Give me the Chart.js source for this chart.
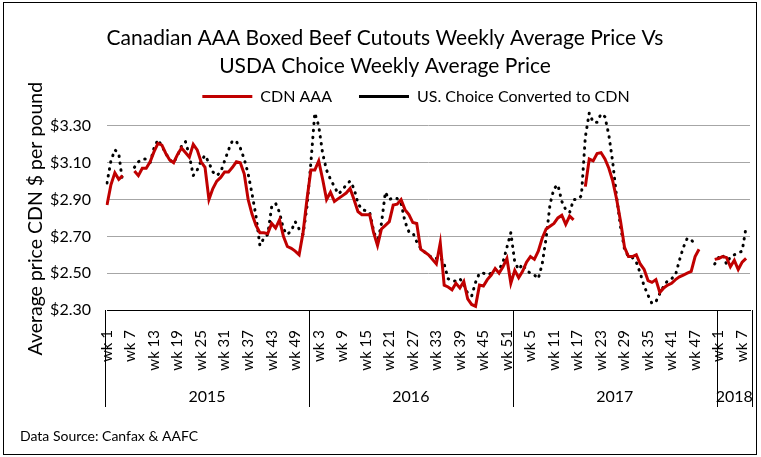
<!DOCTYPE html>
<html>
<head>
<meta charset="utf-8">
<script src="https://cdn.jsdelivr.net/npm/chart.js@4.4.1/dist/chart.umd.min.js"></script>
<style>
  html, body { margin: 0; padding: 0; background: #fff; }
</style>
</head>
<body>
<canvas id="beefChart" width="761" height="457"></canvas>
<script>
const years = ['2015', '2016', '2017', '2018'];
const weeksPerYear = [52, 52, 52, 9];

// CDN AAA, $/lb, one value per week (null = no report)
const cdn2015 = [2.87, 2.98, 3.045, 3.01, 3.03, null, null, 3.055, 3.03, 3.07,
  3.07, 3.105, 3.16, 3.205, 3.195, 3.15, 3.115, 3.10, 3.145, 3.18,
  3.155, 3.13, 3.20, 3.17, 3.105, 3.075, 2.90, 2.96, 3.00, 3.02,
  3.05, 3.05, 3.075, 3.105, 3.10, 3.04, 2.90, 2.82, 2.76, 2.72,
  2.72, 2.715, 2.77, 2.745, 2.79, 2.70, 2.645, 2.635, 2.62, 2.60,
  2.72, 2.90];
const cdn2016 = [3.06, 3.06, 3.11, 3.01, 2.90, 2.94, 2.89, 2.905, 2.92, 2.935,
  2.96, 2.90, 2.835, 2.818, 2.818, 2.818, 2.72, 2.65, 2.74, 2.76,
  2.78, 2.87, 2.875, 2.90, 2.845, 2.818, 2.775, 2.77, 2.63, 2.615,
  2.60, 2.575, 2.55, 2.665, 2.435, 2.425, 2.41, 2.445, 2.42, 2.455,
  2.36, 2.33, 2.32, 2.435, 2.43, 2.465, 2.49, 2.525, 2.50, 2.535,
  2.58, 2.445];
const cdn2017 = [2.515, 2.475, 2.51, 2.56, 2.59, 2.575, 2.62, 2.69, 2.74, 2.755,
  2.77, 2.80, 2.815, 2.765, 2.81, 2.79, null, null, 2.97, 3.12,
  3.11, 3.15, 3.155, 3.12, 3.07, 3.00, 2.90, 2.78, 2.64, 2.59,
  2.59, 2.60, 2.55, 2.52, 2.46, 2.45, 2.465, 2.395, 2.42, 2.435,
  2.445, 2.465, 2.48, 2.49, 2.50, 2.51, 2.59, 2.63, null, null,
  null, 2.575];
const cdn2018 = [2.58, 2.59, 2.585, 2.535, 2.57, 2.52, 2.56, 2.58, null];

// US Choice converted to CDN
const us2015 = [2.99, 3.11, 3.17, 3.15, 2.99, null, null, 3.075, 3.105, 3.12,
  3.12, 3.10, 3.18, 3.225, 3.19, 3.15, 3.115, 3.10, 3.14, 3.19,
  3.215, 3.14, 3.03, 3.06, 3.11, 3.14, 3.10, 3.05, 3.03, 3.05,
  3.11, 3.17, 3.22, 3.215, 3.18, 3.12, 3.04, 2.93, 2.81, 2.65,
  2.69, 2.71, 2.86, 2.88, 2.83, 2.74, 2.71, 2.73, 2.78, 2.74,
  2.71, 2.86];
const us2016 = [3.10, 3.37, 3.30, 3.15, 3.06, 3.01, 2.97, 2.93, 2.95, 2.98,
  3.00, 2.96, 2.88, 2.845, 2.84, 2.83, 2.73, 2.665, 2.77, 2.94,
  2.90, 2.91, 2.905, 2.88, 2.78, 2.725, 2.72, 2.67, 2.635, 2.615,
  2.60, 2.58, 2.58, 2.59, 2.55, 2.47, 2.457, 2.457, 2.47, 2.44,
  2.39, 2.375, 2.45, 2.50, 2.50, 2.49, 2.50, 2.52, 2.52, 2.56,
  2.64, 2.72];
const us2017 = [2.56, 2.52, 2.55, 2.515, 2.50, 2.49, 2.47, 2.55, 2.69, 2.875,
  2.96, 2.98, 2.89, 2.845, 2.83, 2.90, 2.90, 2.92, 3.24, 3.37,
  3.32, 3.32, 3.365, 3.35, 3.25, 3.10, 2.91, 2.75, 2.63, 2.59,
  2.585, 2.56, 2.50, 2.43, 2.38, 2.335, 2.345, 2.39, 2.43, 2.46,
  2.47, 2.49, 2.57, 2.64, 2.69, 2.68, 2.66, null, null, null,
  null, 2.55];
const us2018 = [2.585, 2.60, 2.55, 2.59, 2.60, 2.61, 2.62, 2.75, null];

const yTicks = [2.30, 2.50, 2.70, 2.90, 3.10, 3.30];

const weekLabels = [];
years.forEach((y, k) => {
  for (let w = 1; w <= weeksPerYear[k]; w++) weekLabels.push('wk ' + w);
});
const cdnAAA = cdn2015.concat(cdn2016, cdn2017, cdn2018);
const usChoice = us2015.concat(us2016, us2017, us2018);

const FONT = 'Lato';
Chart.defaults.color = '#000';
Chart.defaults.font.family = FONT;

// year boxes under the week labels + outer frame
const yearBands = {
  id: 'yearBands',
  afterLayout(chart) {
    // legend sits a bit right of centre in the original
    chart.legend.left += 31;
    chart.legend.right += 31;
  },
  afterDraw(chart) {
    const {ctx, chartArea} = chart;
    const x = chart.scales.x;
    ctx.save();
    ctx.strokeStyle = '#000';
    ctx.lineWidth = 1;
    ctx.fillStyle = '#000';
    ctx.font = '16px ' + FONT;
    ctx.textAlign = 'center';
    ctx.textBaseline = 'middle';
    let start = 0;
    const edges = [x.getPixelForValue(-0.5)];
    weeksPerYear.forEach(n => {
      start += n;
      edges.push(x.getPixelForValue(start - 0.5));
    });
    edges.forEach(px => {
      const xx = Math.round(px) + 0.5;
      ctx.beginPath();
      ctx.moveTo(xx, chartArea.bottom);
      ctx.lineTo(xx, 407);
      ctx.stroke();
    });
    years.forEach((y, k) => {
      ctx.fillText(y, (edges[k] + edges[k + 1]) / 2, 397);
    });
    ctx.strokeRect(3.5, 2.5, 753, 452);
    ctx.restore();
  }
};

new Chart(document.getElementById('beefChart'), {
  type: 'line',
  data: {
    labels: weekLabels,
    datasets: [
      {
        label: 'CDN AAA',
        data: cdnAAA,
        borderColor: '#c00000',
        backgroundColor: '#c00000',
        borderWidth: 3,
        pointRadius: 0,
        tension: 0
      },
      {
        label: 'US. Choice Converted to CDN',
        data: usChoice,
        borderColor: '#000',
        backgroundColor: '#000',
        borderWidth: 3,
        borderDash: [0.5, 6.5],
        borderCapStyle: 'round',
        pointRadius: 0,
        tension: 0
      }
    ]
  },
  options: {
    responsive: false,
    animation: false,
    layout: { padding: { left: 20, right: 11, top: 0, bottom: 0 } },
    plugins: {
      title: {
        display: true,
        text: ['Canadian AAA Boxed Beef Cutouts Weekly Average Price Vs', 'USDA Choice Weekly Average Price'],
        font: { size: 21, weight: 'normal', lineHeight: 1.333 },
        padding: { top: 24, bottom: -18.5 }
      },
      subtitle: {
        display: true,
        position: 'bottom',
        align: 'start',
        text: 'Data Source: Canfax & AAFC',
        font: { size: 14 },
        padding: { top: 0, bottom: 12 }
      },
      legend: {
        maxHeight: 46,
        labels: {
          usePointStyle: true,
          pointStyle: 'line',
          pointStyleWidth: 50,
          padding: 27,
          font: { size: 16 }
        }
      },
      tooltip: { enabled: false }
    },
    scales: {
      x: {
        grid: { display: false },
        border: { display: true, color: '#000', width: 1 },
        ticks: {
          autoSkip: false,
          minRotation: 90,
          maxRotation: 90,
          padding: 12,
          font: { size: 15 },
          callback: function (v, i) { return i % 6 === 0 ? this.getLabelForValue(v) : null; }
        },
        afterFit: s => {
          s.height = 118.2;
          s.paddingLeft = 0;
          s.paddingRight = 0;
        }
      },
      y: {
        min: 2.30,
        max: 3.40,
        grid: { color: '#a6a6a6', drawTicks: false },
        border: { display: false },
        afterBuildTicks: s => { s.ticks = yTicks.map(v => ({ value: v })); },
        ticks: {
          padding: 16,
          font: { size: 16 },
          callback: v => '$' + v.toFixed(2)
        },
        title: {
          display: true,
          text: 'Average price CDN $ per pound\u00a0\u00a0\u00a0\u00a0',
          font: { size: 19.5 },
          padding: { top: 4, bottom: 0 }
        },
        afterFit: s => { s.width = 87; }
      }
    }
  },
  plugins: [yearBands]
});
</script>
</body>
</html>
